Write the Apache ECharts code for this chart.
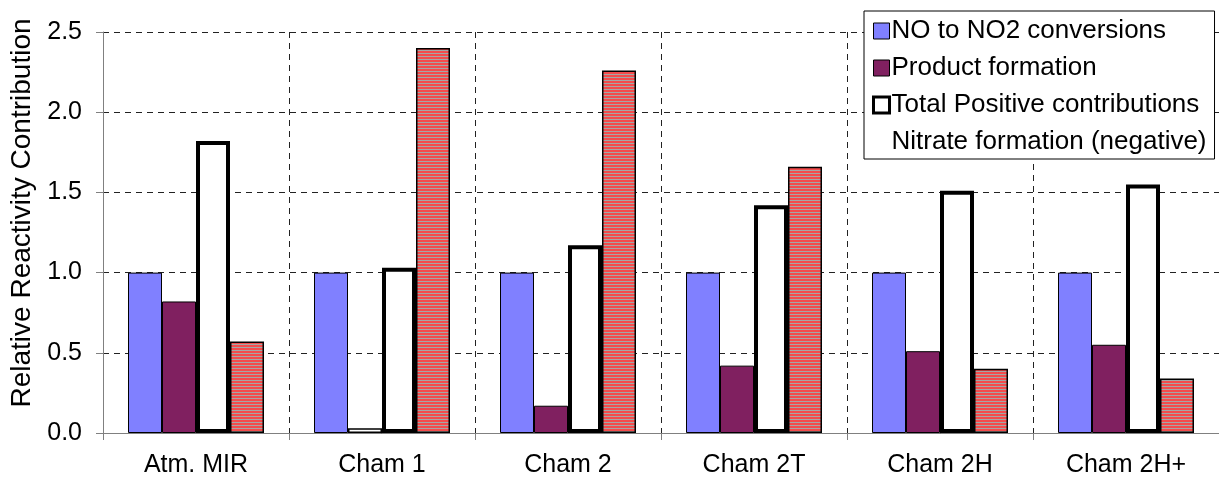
<!DOCTYPE html>
<html>
<head>
<meta charset="utf-8">
<script src="https://cdn.jsdelivr.net/npm/echarts@6/dist/echarts.min.js"></script>
<style>
  html, body { margin: 0; padding: 0; background: #fff; }
  #chart { width: 1219px; height: 479px; }
</style>
</head>
<body>
<div id="chart"></div>
<script>
const categories = ['Atm. MIR', 'Cham 1', 'Cham 2', 'Cham 2T', 'Cham 2H', 'Cham 2H+'];
const noConversions = [1.00, 1.00, 1.00, 1.00, 1.00, 1.00];
const productFormation = [0.82, 0.03, 0.17, 0.42, 0.51, 0.55];
const totalPositive = [1.82, 1.03, 1.17, 1.42, 1.51, 1.55];
const nitrateFormation = [0.57, 2.40, 2.26, 1.66, 0.40, 0.34];
const seriesNames = ['NO to NO2 conversions', 'Product formation', 'Total Positive contributions', 'Nitrate formation (negative)'];
const yTicks = [0, 0.5, 1.0, 1.5, 2.0, 2.5];

const FONT = '"Liberation Sans", Arial, sans-serif';

// horizontal red / grey stripe fill for the nitrate bars
function stripeCanvas() {
  const c = document.createElement('canvas');
  c.width = 4; c.height = 3;
  const g = c.getContext('2d');
  g.fillStyle = '#F44C4C'; g.fillRect(0, 0, 4, 2);
  g.fillStyle = '#A6A6A6'; g.fillRect(0, 2, 4, 1);
  return c;
}

// product bar for Cham 1 is drawn unfilled
const productData = productFormation.map((v, i) =>
  i === 1 ? { value: v, itemStyle: { color: '#ffffff', borderColor: '#000', borderWidth: 1.5 } } : v);

const chart = echarts.init(document.getElementById('chart'), null, { renderer: 'canvas' });
chart.setOption({
  animation: false,
  backgroundColor: '#ffffff',
  grid: { left: 103, right: 0, top: 32, bottom: 46, containLabel: false },
  legend: {
    left: 864, top: 11,
    orient: 'vertical',
    padding: [7, 8, 4, 8],
    itemGap: 11,
    itemWidth: 16, itemHeight: 16,
    icon: 'rect',
    borderColor: '#000', borderWidth: 1,
    backgroundColor: '#fff',
    textStyle: { fontFamily: FONT, fontSize: 26, color: '#000', lineHeight: 26, padding: [0, 0, 0, -3] },
    data: [
      { name: seriesNames[0], itemStyle: { borderColor: '#000', borderWidth: 1 } },
      { name: seriesNames[1], itemStyle: { borderColor: '#000', borderWidth: 1 } },
      { name: seriesNames[2], itemStyle: { color: '#fff', borderColor: '#000', borderWidth: 3 } },
      { name: seriesNames[3], itemStyle: { color: 'rgba(0,0,0,0)', borderWidth: 0, opacity: 0 } }
    ]
  },
  xAxis: {
    type: 'category',
    data: categories,
    axisLine: { lineStyle: { color: '#808080', width: 1 } },
    axisTick: { show: true, interval: 0, length: 7, lineStyle: { color: '#808080' } },
    axisLabel: { fontFamily: FONT, fontSize: 25, color: '#000', margin: 20, interval: 0 },
    splitLine: { show: true, interval: 0, lineStyle: { color: '#222', type: [6, 5], width: 1 } }
  },
  yAxis: {
    type: 'value',
    min: 0, max: 2.5, interval: 0.5,
    axisLine: { show: true, lineStyle: { color: '#808080', width: 1 } },
    axisTick: { show: true, length: 7, lineStyle: { color: '#808080' } },
    axisLabel: {
      fontFamily: FONT, fontSize: 25, color: '#000', margin: 21,
      formatter: v => yTicks.includes(v) ? v.toFixed(1) : ''
    },
    splitLine: { show: true, lineStyle: { color: '#222', type: [6, 5], width: 1 } }
  },
  graphic: [{
    type: 'text',
    x: 22, y: 213,
    rotation: Math.PI / 2,
    style: {
      text: 'Relative Reactivity Contribution',
      fontFamily: FONT, fontSize: 28, fill: '#000',
      align: 'center', verticalAlign: 'middle'
    }
  }],
  series: [
    {
      name: seriesNames[0], type: 'bar', data: noConversions,
      barWidth: 34, barGap: '0%',
      itemStyle: { color: '#8080FF', borderColor: '#000', borderWidth: 1 }
    },
    {
      name: seriesNames[1], type: 'bar', data: productData,
      barWidth: 34, barGap: '0%',
      itemStyle: { color: '#802060', borderColor: '#000', borderWidth: 1 }
    },
    {
      name: seriesNames[2], type: 'bar', data: totalPositive,
      barWidth: 34, barGap: '0%',
      itemStyle: { color: '#ffffff', borderColor: '#000', borderWidth: 4 }
    },
    {
      name: seriesNames[3], type: 'bar', data: nitrateFormation,
      barWidth: 34, barGap: '0%',
      itemStyle: { color: { image: stripeCanvas(), repeat: 'repeat' }, borderColor: '#000', borderWidth: 1.5 }
    }
  ]
});
</script>
</body>
</html>
